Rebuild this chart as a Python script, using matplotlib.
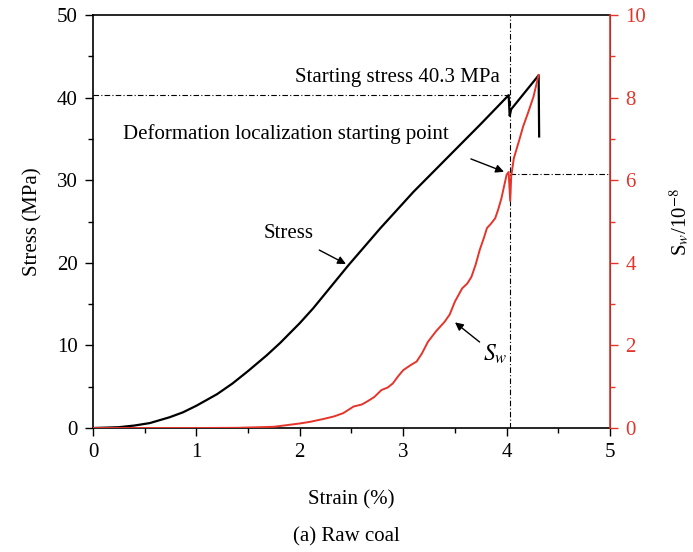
import numpy as np
import matplotlib.pyplot as plt
from matplotlib.ticker import MultipleLocator

plt.rcParams['font.family'] = ['Liberation Serif', 'DejaVu Serif']
plt.rcParams['mathtext.fontset'] = 'stix'

# stress-strain curve
strain_s = [0, 0.25, 0.4, 0.55, 0.74, 0.87, 1.0, 1.2, 1.35, 1.5, 1.68, 1.81, 2.0,
            2.13, 2.3, 2.47, 2.78, 3.10, 3.52, 3.75, 4.02, 4.03, 4.045, 4.31, 4.315]
stress = [0, 0.1, 0.3, 0.6, 1.3, 1.9, 2.7, 4.1, 5.4, 6.9, 8.8, 10.3, 12.7,
          14.5, 17.1, 19.7, 24.2, 28.6, 33.9, 36.8, 40.3, 37.8, 38.6, 42.7, 35.3]

# S_w curve (units of 1e-8)
strain_w = [0, 1.0, 1.4, 1.75, 2.0, 2.1, 2.23, 2.33, 2.42, 2.52, 2.6, 2.65, 2.72, 2.79,
            2.85, 2.90, 2.95, 3.00, 3.07, 3.13, 3.18, 3.24, 3.32, 3.40, 3.45, 3.50,
            3.57, 3.62, 3.66, 3.70, 3.74, 3.78, 3.81, 3.85, 3.89, 3.92, 3.95, 4.00,
            4.02, 4.035, 4.045, 4.07, 4.12, 4.16, 4.21, 4.26, 4.31]
sw = [0, 0, 0.005, 0.03, 0.11, 0.15, 0.22, 0.28, 0.36, 0.52, 0.57, 0.64, 0.75, 0.92,
      0.98, 1.08, 1.25, 1.40, 1.52, 1.61, 1.80, 2.09, 2.35, 2.57, 2.75, 3.06,
      3.38, 3.50, 3.66, 3.95, 4.31, 4.60, 4.84, 4.95, 5.08, 5.30, 5.56, 6.13,
      6.2, 5.5, 6.1, 6.53, 6.95, 7.30, 7.65, 8.02, 8.55]

start_strain = 4.03
start_stress = 40.3
start_sw = 6.15

red = '#e5342a'

fig = plt.figure(figsize=(6.93, 5.52), dpi=100)
ax = fig.add_axes([0.1342, 0.2246, 0.746, 0.7482])
ax2 = ax.twinx()

ax.plot(strain_s, stress, color='black', lw=1.6, zorder=3)
ax2.plot(strain_w, sw, color=red, lw=1.4, zorder=3)

ls = (0, (5, 2, 1, 2))
ax.plot([0, start_strain], [start_stress, start_stress], color='black', lw=0.8, ls=ls)
ax.axvline(start_strain, color='black', lw=0.8, ls=ls)
ax2.plot([start_strain, 5], [start_sw, start_sw], color='black', lw=0.8, ls=ls)

ax.set_xlim(0, 5)
ax.set_ylim(0, 50)
ax2.set_ylim(0, 10)

ax.xaxis.set_major_locator(MultipleLocator(1))
ax.xaxis.set_minor_locator(MultipleLocator(0.5))
ax.yaxis.set_major_locator(MultipleLocator(10))
ax.yaxis.set_minor_locator(MultipleLocator(5))
ax2.yaxis.set_major_locator(MultipleLocator(2))
ax2.yaxis.set_minor_locator(MultipleLocator(1))

ax.tick_params(which='major', direction='out', length=6, width=1, labelsize=15, pad=5)
ax.tick_params(which='minor', direction='out', length=3.5, width=1)
ax2.tick_params(which='major', direction='out', length=6, width=1, labelsize=15,
                colors=red, pad=5)
ax2.tick_params(which='minor', direction='out', length=3.5, width=1, colors=red)

for s in ['left', 'bottom', 'top']:
    ax.spines[s].set_linewidth(1.2)
ax2.spines['right'].set_color(red)
ax2.spines['right'].set_linewidth(1.2)
ax2.spines['left'].set_visible(False)
ax2.spines['top'].set_visible(False)
ax2.spines['bottom'].set_visible(False)

ax.set_xlabel('Strain (%)', fontsize=15, labelpad=20)
ax.set_ylabel('Stress (MPa)', fontsize=15, labelpad=10)
ax2.set_ylabel(r'S$_w$/10$^{-8}$', fontsize=15, rotation=90)
ax2.yaxis.set_label_coords(1.112, 0.5)

ax.text(2.94, 42.4, 'Starting stress 40.3 MPa', fontsize=15, ha='center', va='center')
ax.text(1.87, 35.6, 'Deformation localization starting point', fontsize=15,
        ha='center', va='center')
ax.annotate('', xy=(4.0, 30.9), xytext=(3.63, 32.7),
            arrowprops=dict(arrowstyle='-|>', color='black', lw=1, mutation_scale=12))
ax.annotate('Stress', xy=(2.47, 19.7), xytext=(1.89, 23.5), fontsize=15,
            ha='center', va='center',
            arrowprops=dict(arrowstyle='-|>', color='black', lw=1, mutation_scale=12,
                            shrinkA=6))
ax.annotate('', xy=(3.48, 13.0), xytext=(3.76, 10.2),
            arrowprops=dict(arrowstyle='-|>', color='black', lw=1, mutation_scale=12))
ax.text(3.89, 8.9, r'$S_w$', fontsize=17, ha='center', va='center')

fig.text(0.5, 0.027, '(a) Raw coal', fontsize=15, ha='center', va='center')

fig.savefig('out.png', dpi=100)
